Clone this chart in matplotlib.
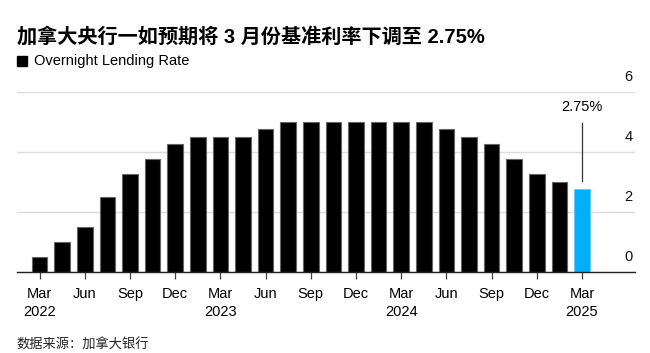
import numpy as np
import matplotlib
matplotlib.use("Agg")
import matplotlib.pyplot as plt
from matplotlib.patches import Rectangle

plt.rcParams['font.family'] = ['Liberation Sans', 'Noto Sans CJK SC', 'DejaVu Sans']

# Bank of Canada overnight rate at each decision, Mar 2022 - Mar 2025
rates = [0.5, 1.0, 1.5, 2.5, 3.25, 3.75, 4.25, 4.5, 4.5, 4.5, 4.75, 5.0, 5.0,
         5.0, 5.0, 5.0, 5.0, 5.0, 4.75, 4.5, 4.25, 3.75, 3.25, 3.0, 2.75]
tick_labels = ["Mar\n2022", "Jun", "Sep", "Dec", "Mar\n2023", "Jun", "Sep", "Dec",
               "Mar\n2024", "Jun", "Sep", "Dec", "Mar\n2025"]
yticks = [0, 2, 4, 6]

x = np.arange(len(rates))
colors = ['black'] * (len(rates) - 1) + ['#00aeff']
edges = ['#666666'] * (len(rates) - 1) + ['#66ccff']

fig = plt.figure(figsize=(6.5, 3.53), dpi=100)
ax = fig.add_axes([0.026, 0.2295, 0.951, 0.51])

ax.bar(x, rates, width=0.69, color=colors, edgecolor=edges, linewidth=0.8, zorder=3)

ax.set_xlim(-1, 26.35)
ax.set_ylim(0, 6)

for s in ['top', 'right', 'left']:
    ax.spines[s].set_visible(False)
ax.spines['bottom'].set_color('#222222')
ax.spines['bottom'].set_linewidth(1.0)
ax.spines['bottom'].set_zorder(4)

ax.set_yticks(yticks)
ax.set_yticklabels([])
ax.tick_params(axis='y', length=0)
ax.grid(axis='y', color='#dddddd', linewidth=1.0, zorder=0)
for y in yticks:
    ax.annotate(str(y), xy=(1.0, y), xycoords=ax.get_yaxis_transform(),
                xytext=(-2, 6), textcoords='offset points', ha='right',
                va='bottom', fontsize=10.5, color='#111111', annotation_clip=False)

ax.set_xticks(x[::2])
ax.set_xticklabels(tick_labels, fontsize=10.5, linespacing=1.35)
ax.tick_params(axis='x', length=5, width=0.9, color='#444444', pad=6)

# callout for the latest value
ax.plot([x[-1], x[-1]], [rates[-1] + 0.28, rates[-1] + 2.2], color='#333333', linewidth=0.9)
ax.text(x[-1], rates[-1] + 2.5, "2.75%", ha='center', va='bottom', fontsize=10.5)

fig.text(0.026, 0.895, "加拿大央行一如预期将 3 月份基准利率下调至 2.75%",
         fontsize=14.5, fontweight='bold', va='center')
fig.patches.append(Rectangle((17 / 650, 1 - 66 / 353), 10 / 650, 10 / 353,
                             transform=fig.transFigure, color='black'))
fig.text(34 / 650, 0.828, "Overnight Lending Rate", fontsize=10.5, va='center')
fig.text(0.026, 0.022, "数据来源：加拿大银行", fontsize=9.5, va='center', color='#222222')

fig.savefig("out.png", dpi=100)
